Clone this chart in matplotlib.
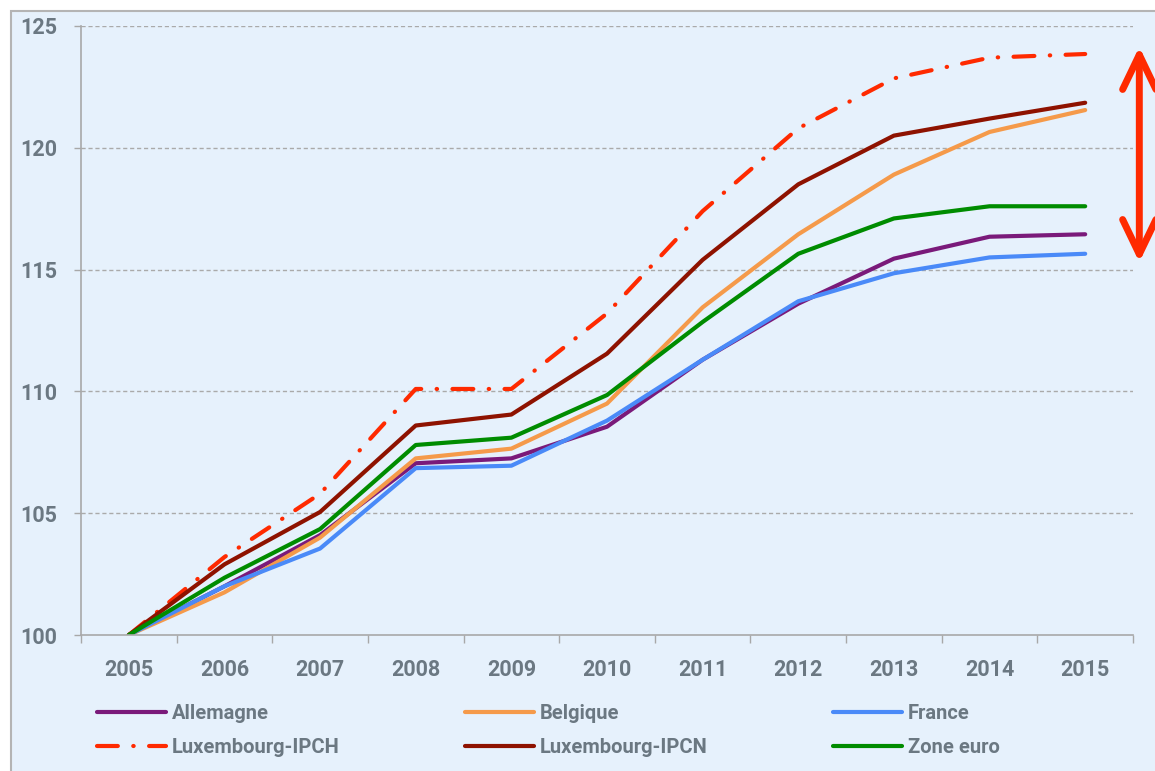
import matplotlib
matplotlib.use("Agg")
import matplotlib.pyplot as plt
from matplotlib.patches import Rectangle
import numpy as np

years = ["2005", "2006", "2007", "2008", "2009", "2010",
         "2011", "2012", "2013", "2014", "2015"]

allemagne = [100, 102.0, 104.1, 107.05, 107.25, 108.55, 111.3, 113.6, 115.45, 116.35, 116.45]
belgique = [100, 101.75, 104.0, 107.25, 107.65, 109.5, 113.45, 116.45, 118.9, 120.65, 121.55]
france = [100, 102.0, 103.55, 106.85, 106.95, 108.8, 111.3, 113.7, 114.85, 115.5, 115.65]
lux_ipch = [100, 103.2, 105.8, 110.1, 110.1, 113.2, 117.4, 120.8, 122.85, 123.7, 123.85]
lux_ipcn = [100, 102.9, 105.05, 108.6, 109.05, 111.55, 115.4, 118.5, 120.5, 121.2, 121.85]
zone_euro = [100, 102.35, 104.35, 107.8, 108.1, 109.85, 112.85, 115.65, 117.1, 117.6, 117.6]

series = [
    ("Allemagne", allemagne, "#7a1a7a", "-"),
    ("Belgique", belgique, "#f59a4a", "-"),
    ("France", france, "#4a8af8", "-"),
    ("Luxembourg-IPCH", lux_ipch, "#ff2a00", "dashdot"),
    ("Luxembourg-IPCN", lux_ipcn, "#8e1200", "-"),
    ("Zone euro", zone_euro, "#008c00", "-"),
]

txt_col = "#6b7882"
fam = ["Roboto", "DejaVu Sans"]
plt.rcParams["font.family"] = fam
plt.rcParams["font.weight"] = "bold"

fig = plt.figure(figsize=(11.55, 7.71), dpi=100)
fig.patch.set_facecolor("white")
# light blue panel with grey frame
fig.patches.append(Rectangle((11 / 1155, -0.05), 1.1, 1.05 - 11 / 771,
                             transform=fig.transFigure, facecolor="#e6f1fc",
                             edgecolor="#b4b4b4", lw=1.5, zorder=-10))

ax = fig.add_axes([81 / 1155, 136 / 771, 1052 / 1155, 609 / 771])
ax.set_facecolor("none")

x = np.arange(len(years)) + 0.5
lines = []
for name, vals, col, ls in series:
    if ls == "dashdot":
        ln, = ax.plot(x, vals, color=col, lw=3, label=name, dashes=(5, 3.7, 0.1, 3.7),
                      dash_capstyle="round", solid_joinstyle="round")
    else:
        ln, = ax.plot(x, vals, color=col, lw=3, label=name,
                      solid_capstyle="round", solid_joinstyle="round")
    lines.append(ln)

ax.set_xlim(0, len(years))
ax.set_ylim(100, 125)
ax.set_yticks([100, 105, 110, 115, 120, 125])
ax.set_xticks(x)
ax.set_xticklabels(years)
ax.set_xticks(np.arange(len(years) + 1), minor=True)
ax.tick_params(axis="x", which="major", length=0, pad=17.5, labelsize=15.5, labelcolor=txt_col)
ax.tick_params(axis="x", which="minor", length=6, color="#a8a8a8", width=1)
ax.tick_params(axis="y", length=5, color="#a8a8a8", width=1, pad=12,
               labelsize=15.5, labelcolor=txt_col)
for lab in ax.get_xticklabels() + ax.get_yticklabels():
    lab.set_fontweight("bold")

for v in [105, 110, 115, 120, 125]:
    ax.axhline(v, color="#aaaaaa", lw=1, ls=(0, (3, 2)), zorder=0)

for s in ["top", "right"]:
    ax.spines[s].set_visible(False)
for s in ["left", "bottom"]:
    ax.spines[s].set_color("#a8a8a8")
    ax.spines[s].set_linewidth(1.2)

# spread of the 2015 values
last = [vals[-1] for _, vals, _, _ in series]
ax.annotate("", xy=(1.006, max(last) + 0.3), xycoords=("axes fraction", "data"),
            xytext=(1.006, min(last) - 0.35), textcoords=("axes fraction", "data"),
            arrowprops=dict(arrowstyle="<->, head_length=1.25, head_width=0.6",
                            mutation_scale=20, lw=5, color="#ff2a00",
                            shrinkA=0, shrinkB=0, capstyle="round", joinstyle="round"),
            annotation_clip=False)

# legend filled row by row: reorder for column-major layout
order = [0, 3, 1, 4, 2, 5]
leg = fig.legend([lines[i] for i in order], [series[i][0] for i in order],
                 loc="upper left", bbox_to_anchor=(79 / 1155, 1 - 686 / 771), ncol=3,
                 frameon=False, handlelength=3.4, handletextpad=0.3,
                 columnspacing=6.25, labelspacing=0.75,
                 prop=dict(family=fam, weight="bold", size=14.5))
for t in leg.get_texts():
    t.set_color(txt_col)

fig.savefig("out.png", dpi=100)
